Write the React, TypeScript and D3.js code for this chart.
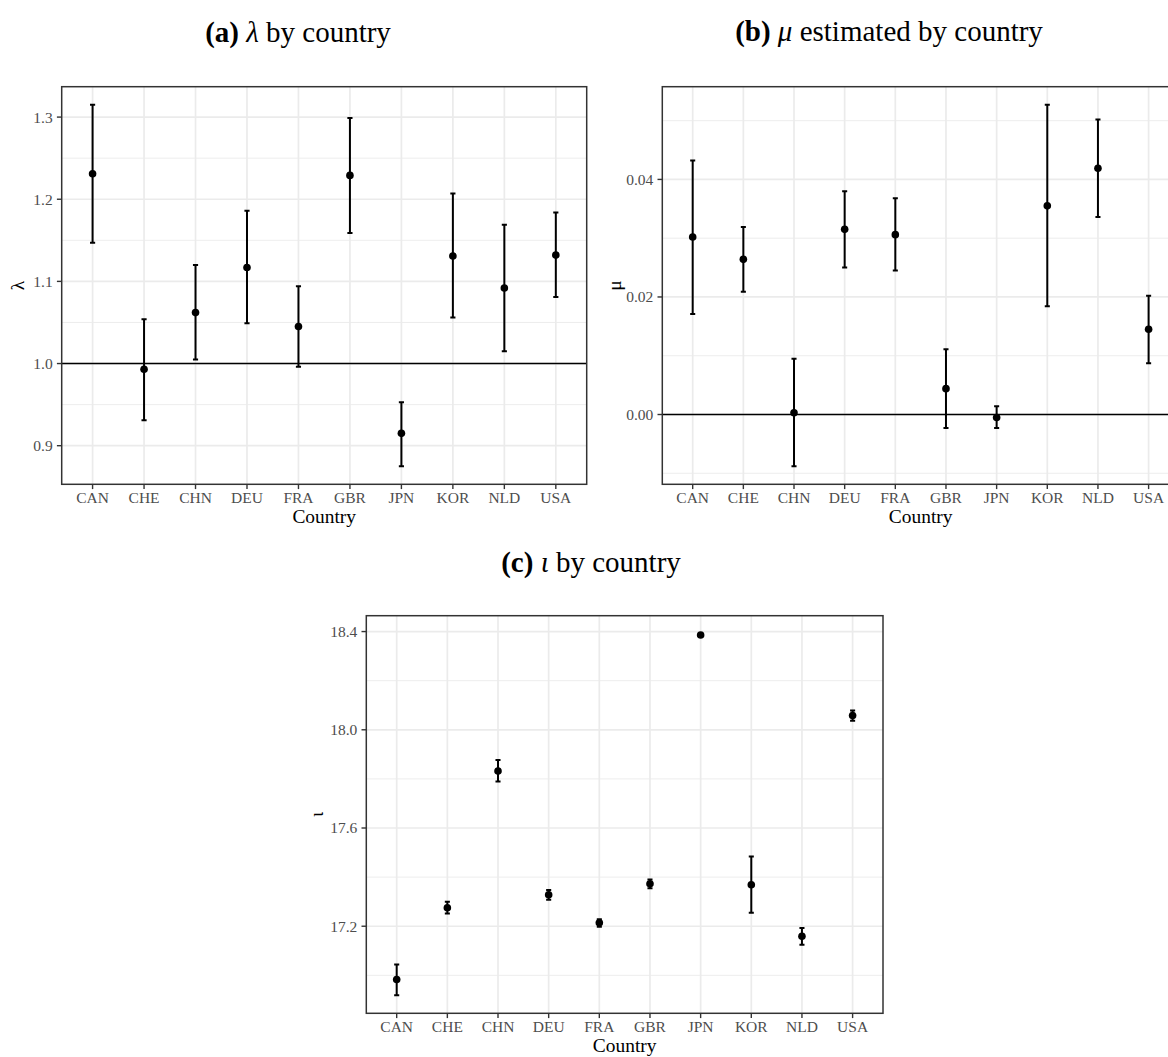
import React from "react";
import * as d3 from "d3";

const countries = ["CAN", "CHE", "CHN", "DEU", "FRA", "GBR", "JPN", "KOR", "NLD", "USA"];

const lambdaEst = [1.231, 0.993, 1.062, 1.117, 1.045, 1.229, 0.915, 1.131, 1.092, 1.132];
const lambdaLo = [1.147, 0.931, 1.005, 1.049, 0.996, 1.159, 0.875, 1.056, 1.015, 1.081];
const lambdaHi = [1.315, 1.054, 1.120, 1.186, 1.094, 1.299, 0.953, 1.207, 1.169, 1.184];

const muEst = [0.0302, 0.0264, 0.0003, 0.0315, 0.0306, 0.0044, -0.0005, 0.0355, 0.0419, 0.0145];
const muLo = [0.0171, 0.0209, -0.0088, 0.0250, 0.0245, -0.0023, -0.0023, 0.0184, 0.0336, 0.0087];
const muHi = [0.0432, 0.0319, 0.0095, 0.0380, 0.0368, 0.0111, 0.0014, 0.0527, 0.0502, 0.0202];

const iotaEst = [16.983, 17.275, 17.832, 17.328, 17.214, 17.373, 18.386, 17.369, 17.159, 18.058];
const iotaLo = [16.919, 17.252, 17.789, 17.308, 17.198, 17.355, 18.381, 17.255, 17.125, 18.037];
const iotaHi = [17.044, 17.300, 17.877, 17.348, 17.228, 17.390, 18.391, 17.484, 17.193, 18.079];

const lambdaTicks = [0.9, 1.0, 1.1, 1.2, 1.3];
const lambdaMinor = [0.95, 1.05, 1.15, 1.25];
const muTicks = [0.0, 0.02, 0.04];
const muMinor = [-0.01, 0.01, 0.03, 0.05];
const iotaTicks = [17.2, 17.6, 18.0, 18.4];
const iotaMinor = [17.0, 17.4, 17.8, 18.2];

const FONT = "'Liberation Serif', 'Times New Roman', serif";

type PanelProps = {
  left: number; right: number; top: number; bottom: number;
  est: number[]; lo: number[]; hi: number[];
  ticks: number[]; minor: number[]; fmt: string;
  ylab: string; ylabX: number; refLine?: number;
};

function Panel(p: PanelProps) {
  const x = d3.scalePoint<string>().domain(countries).range([p.left, p.right]).padding(0.6);
  const mn = d3.min(p.lo) as number;
  const mx = d3.max(p.hi) as number;
  const pad = (mx - mn) * 0.05;
  const y = d3.scaleLinear().domain([mn - pad, mx + pad]).range([p.bottom, p.top]);
  const step = x.step();
  const capW = step * 0.1;
  const f = d3.format(p.fmt);
  const inRange = (v: number) => v >= y.domain()[0] && v <= y.domain()[1];
  const clipId = "clip" + Math.round(p.left) + "_" + Math.round(p.top);
  return (
    <g>
      <defs>
        <clipPath id={clipId}>
          <rect x={p.left} y={p.top} width={p.right - p.left} height={p.bottom - p.top} />
        </clipPath>
      </defs>
      <rect x={p.left} y={p.top} width={p.right - p.left} height={p.bottom - p.top} fill="#ffffff" />
      <g clipPath={`url(#${clipId})`}>
        {p.minor.filter(inRange).map((v) => (
          <line key={"mn" + v} x1={p.left} x2={p.right} y1={y(v)} y2={y(v)} stroke="#EBEBEB" strokeWidth={0.9} />
        ))}
        {p.ticks.map((v) => (
          <line key={"mj" + v} x1={p.left} x2={p.right} y1={y(v)} y2={y(v)} stroke="#EBEBEB" strokeWidth={1.7} />
        ))}
        {countries.map((c) => (
          <line key={"vg" + c} x1={x(c)} x2={x(c)} y1={p.top} y2={p.bottom} stroke="#EBEBEB" strokeWidth={1.7} />
        ))}
        {p.refLine !== undefined && (
          <line x1={p.left} x2={p.right} y1={y(p.refLine)} y2={y(p.refLine)} stroke="#000" strokeWidth={1.6} />
        )}
        {countries.map((c, i) => {
          const cx = x(c) as number;
          return (
            <g key={"eb" + c}>
              <line x1={cx} x2={cx} y1={y(p.lo[i])} y2={y(p.hi[i])} stroke="#000" strokeWidth={2} />
              <line x1={cx - capW / 2} x2={cx + capW / 2} y1={y(p.lo[i])} y2={y(p.lo[i])} stroke="#000" strokeWidth={2} />
              <line x1={cx - capW / 2} x2={cx + capW / 2} y1={y(p.hi[i])} y2={y(p.hi[i])} stroke="#000" strokeWidth={2} />
              <circle cx={cx} cy={y(p.est[i])} r={3.8} fill="#000" />
            </g>
          );
        })}
      </g>
      <rect x={p.left} y={p.top} width={p.right - p.left} height={p.bottom - p.top} fill="none" stroke="#333333" strokeWidth={1.5} />
      {p.ticks.map((v) => (
        <g key={"yt" + v}>
          <line x1={p.left - 4.8} x2={p.left} y1={y(v)} y2={y(v)} stroke="#333333" strokeWidth={1.4} />
          <text x={p.left - 9} y={y(v)} dy="0.35em" textAnchor="end" fontFamily={FONT} fontSize={15.5} fill="#4D4D4D">
            {f(v)}
          </text>
        </g>
      ))}
      {countries.map((c) => (
        <g key={"xt" + c}>
          <line x1={x(c)} x2={x(c)} y1={p.bottom} y2={p.bottom + 4.8} stroke="#333333" strokeWidth={1.4} />
          <text x={x(c)} y={p.bottom + 19} textAnchor="middle" fontFamily={FONT} fontSize={15.5} fill="#4D4D4D">
            {c}
          </text>
        </g>
      ))}
      <text x={(p.left + Math.min(p.right, 1168 + 1000)) / 2} y={p.bottom + 38.5} textAnchor="middle" fontFamily={FONT} fontSize={19.4} fill="#000">
        Country
      </text>
      <text
        transform={`translate(${p.ylabX},${(p.top + p.bottom) / 2}) rotate(-90)`}
        dy="0.3em"
        textAnchor="middle"
        fontFamily={FONT}
        fontSize={19.4}
        fill="#000"
      >
        {p.ylab}
      </text>
    </g>
  );
}

function Title({ x, y, label, sym, rest }: { x: number; y: number; label: string; sym: string; rest: string }) {
  return (
    <text x={x} y={y} textAnchor="middle" fontFamily={FONT} fontSize={29} fill="#000">
      <tspan fontWeight="bold">{label}</tspan>
      <tspan> </tspan>
      <tspan fontStyle="italic">{sym}</tspan>
      <tspan>{rest}</tspan>
    </text>
  );
}

export default function App() {
  return (
    <div style={{ position: "absolute", left: 0, top: 0, width: 1168, height: 1057, overflow: "hidden", background: "#fff" }}>
      <svg width={1168} height={1057} style={{ display: "block" }}>
        <rect x={0} y={0} width={1168} height={1057} fill="#fff" />
        <Title x={298} y={42} label="(a)" sym="λ" rest=" by country" />
        <Title x={889} y={41} label="(b)" sym="μ" rest=" estimated by country" />
        <Title x={591} y={572} label="(c)" sym="ι" rest=" by country" />
        <Panel left={61.7} right={586.7} top={86.7} bottom={484.3}
          est={lambdaEst} lo={lambdaLo} hi={lambdaHi}
          ticks={lambdaTicks} minor={lambdaMinor} fmt=".1f" ylab="λ" ylabX={18} refLine={1} />
        <Panel left={662.3} right={1179} top={86.7} bottom={484.3}
          est={muEst} lo={muLo} hi={muHi}
          ticks={muTicks} minor={muMinor} fmt=".2f" ylab="μ" ylabX={615} refLine={0} />
        <Panel left={366.3} right={883} top={615.7} bottom={1013.3}
          est={iotaEst} lo={iotaLo} hi={iotaHi}
          ticks={iotaTicks} minor={iotaMinor} fmt=".1f" ylab="ι" ylabX={317} />
      </svg>
    </div>
  );
}
